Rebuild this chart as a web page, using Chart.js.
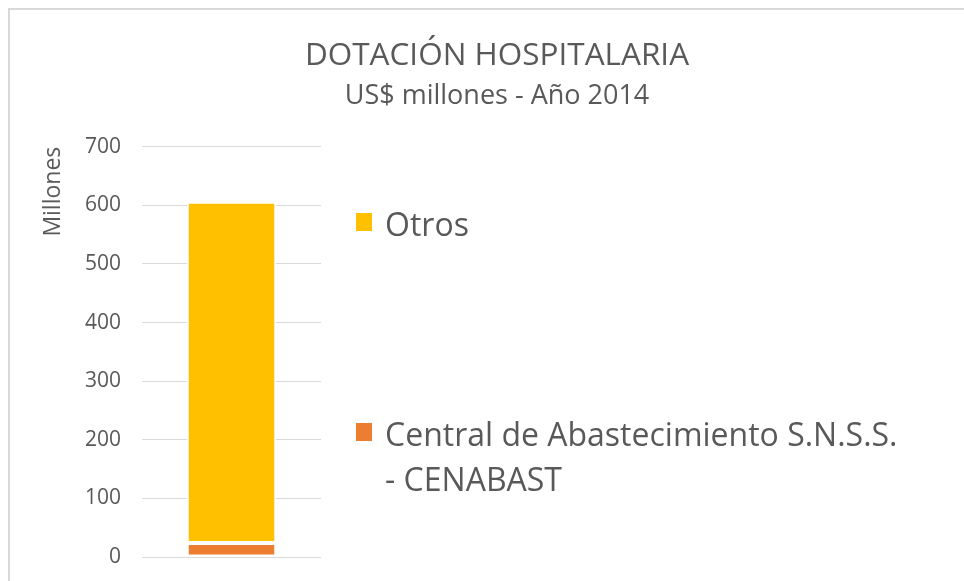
<!DOCTYPE html>
<html>
<head>
<meta charset="utf-8">
<script src="https://cdn.jsdelivr.net/npm/chart.js@4.4.1/dist/chart.umd.min.js"></script>
<style>
  html, body { margin: 0; padding: 0; background: #fff; }
  #wrap { position: relative; width: 964px; height: 581px; overflow: hidden; font-family: "Open Sans", sans-serif; color: #595959; }
  #frame { position: absolute; left: 8px; top: 8px; width: 1000px; height: 1000px; border-top: 2px solid #d9d9d9; border-left: 2px solid #d9d9d9; box-sizing: border-box; }
  #c { position: absolute; left: 0; top: 0; }
  .title { position: absolute; left: 30px; width: 934px; text-align: center; white-space: nowrap; }
  #t1 { top: 33px; font-size: 31.5px; line-height: 40px; }
  #t2 { top: 75px; font-size: 27px; line-height: 37px; }
  .leg { position: absolute; left: 356px; font-size: 32px; line-height: 45px; }
  .leg .box { position: absolute; left: 0; top: 12px; width: 16px; height: 18px; }
  .leg .txt { position: absolute; left: 29px; top: 0; width: 522px; }
  #leg0 { top: 411px; }
  #leg1 { top: 201px; }
</style>
</head>
<body>
<div id="wrap">
  <div id="frame"></div>
  <canvas id="c" width="964" height="581"></canvas>
  <div class="title" id="t1"></div>
  <div class="title" id="t2"></div>
  <div id="legend"></div>
</div>
<script>
const chartTitle = "DOTACIÓN HOSPITALARIA";
const chartSubtitle = "US$ millones - Año 2014";
const yAxisTitle = "Millones";
const categories = ["2014"];
const seriesNames = ["Central de Abastecimiento S.N.S.S. - CENABAST", "Otros"];
const seriesColors = ["#ED7D31", "#FFC000"];
const cenabastValues = [24];
const otrosValues = [582];
const yTicks = [0, 100, 200, 300, 400, 500, 600, 700];

document.getElementById('t1').textContent = chartTitle;
document.getElementById('t2').textContent = chartSubtitle;

const legendEl = document.getElementById('legend');
seriesNames.forEach((name, i) => {
  const item = document.createElement('div');
  item.className = 'leg';
  item.id = 'leg' + i;
  const box = document.createElement('div');
  box.className = 'box';
  box.style.background = seriesColors[i];
  const txt = document.createElement('div');
  txt.className = 'txt';
  txt.textContent = name;
  item.appendChild(box);
  item.appendChild(txt);
  legendEl.appendChild(item);
});

const seriesValues = [cenabastValues, otrosValues];

new Chart(document.getElementById('c'), {
  type: 'bar',
  data: {
    labels: categories,
    datasets: seriesNames.map((name, i) => ({
      label: name,
      data: seriesValues[i],
      backgroundColor: seriesColors[i],
      borderColor: '#ffffff',
      borderWidth: 2,
      borderSkipped: false,
      categoryPercentage: 1,
      barPercentage: 0.5
    }))
  },
  options: {
    responsive: false,
    animation: false,
    devicePixelRatio: 1,
    layout: { padding: { left: 0, right: 643, top: 146.7, bottom: 24 } },
    plugins: { legend: { display: false }, title: { display: false }, tooltip: { enabled: false } },
    scales: {
      x: { stacked: true, display: false },
      y: {
        stacked: true,
        min: 0,
        max: 700,
        afterBuildTicks: (s) => { s.ticks = yTicks.map(v => ({ value: v })); },
        afterFit: (s) => { s.width = 142; },
        border: { display: false },
        grid: { color: '#d9d9d9', lineWidth: 1, drawTicks: true, tickLength: 21, tickColor: 'rgba(0,0,0,0)' },
        ticks: { color: '#595959', padding: 0, font: { family: 'Open Sans', size: 21, lineHeight: 1 } },
        title: {
          display: true,
          text: yAxisTitle,
          align: 'end',
          color: '#595959',
          font: { family: 'Open Sans', size: 23 },
          padding: { top: 40, bottom: 0 }
        }
      }
    }
  }
});
</script>
</body>
</html>
